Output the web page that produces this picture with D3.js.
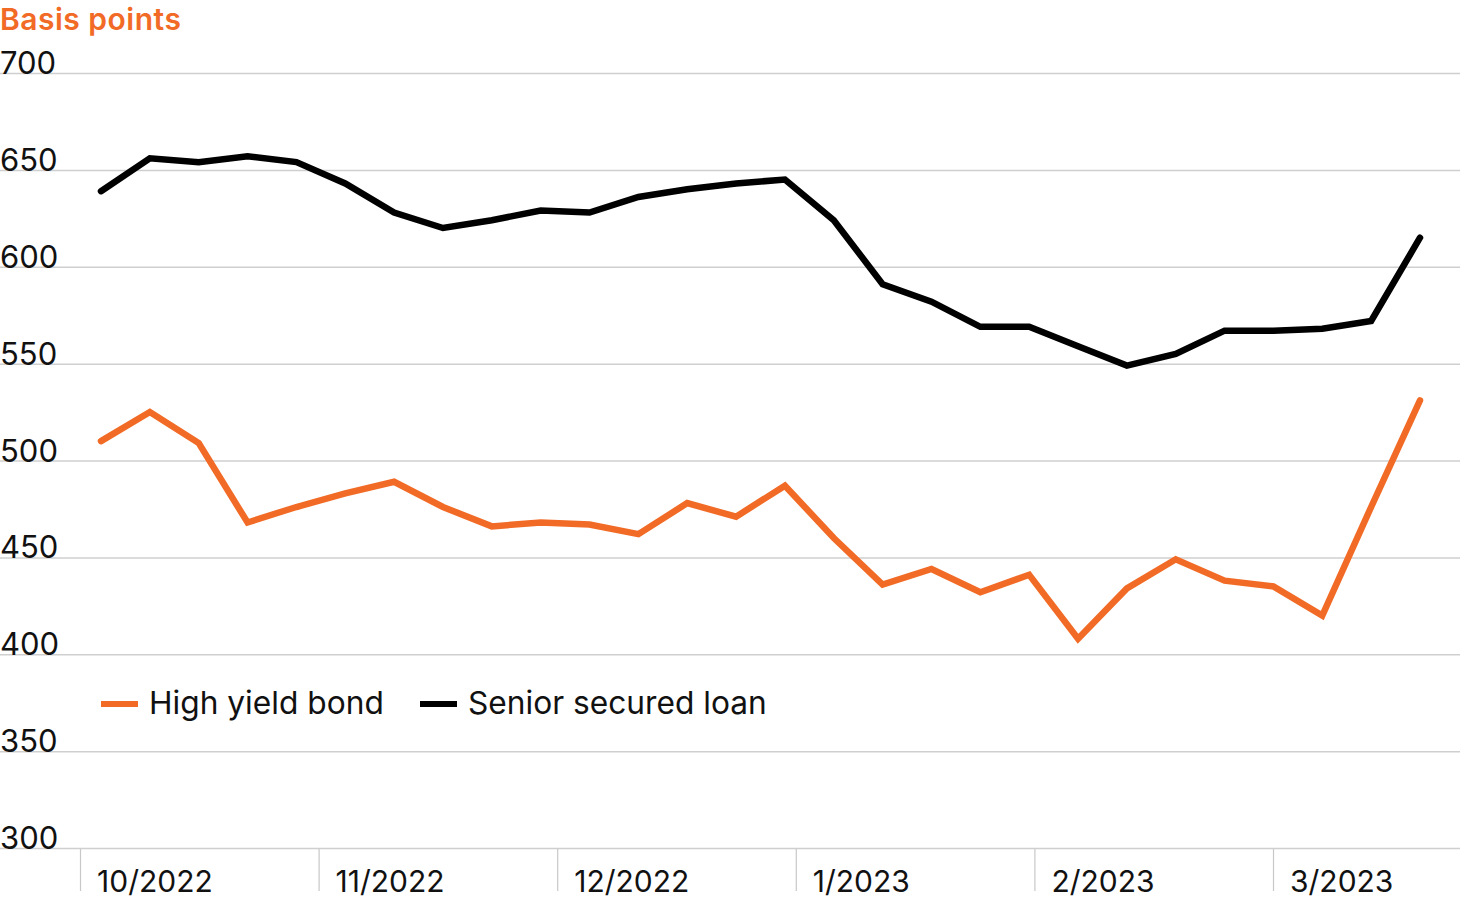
<!DOCTYPE html>
<html><head><meta charset="utf-8">
<script src="https://cdn.jsdelivr.net/npm/d3@7"></script>
<style>
html,body{margin:0;padding:0;background:#fff;}
svg{display:block;font-family:Inter,"Noto Sans",sans-serif;}
</style></head>
<body>
<svg id="chart" width="1460" height="900"></svg>
<script>
const months = ["10/2022","11/2022","12/2022","1/2023","2/2023","3/2023"];
const yTicks = [300,350,400,450,500,550,600,650,700];
const highYield = [510,525,509,468,476,483,489,476,466,468,467,462,478,471,487,460,436,444,432,441,408,434,449,438,435,420,476,531];
const seniorLoan = [639,656,654,657,654,643,628,620,624,629,628,636,640,643,645,624,591,582,569,569,559,549,555,567,567,568,572,615];
const seriesNames = ["High yield bond","Senior secured loan"];
const colors = ["#f26b26","#000000"];

const svg = d3.select("#chart");
const y = d3.scaleLinear().domain([300,700]).range([848,73]);
const x = d3.scaleLinear().domain([0, highYield.length-1]).range([101,1420]);
const xm = d3.scaleBand().domain(months).range([80, 80+6*238.6]);

// gridlines
svg.append("g").selectAll("line").data(yTicks).join("line")
  .attr("x1",0).attr("x2",1460)
  .attr("y1",d=>y(d)+0.5).attr("y2",d=>y(d)+0.5)
  .attr("stroke","#cfcfcf").attr("stroke-width",1.5);

// y labels
svg.append("g").selectAll("text").data(yTicks).join("text")
  .attr("x",0).attr("y",d=>y(d)+1)
  .attr("font-size",31).attr("fill","#111")
  .text(d=>d);

// month ticks
svg.append("g").selectAll("line").data(months).join("line")
  .attr("x1",d=>xm(d)+0.5).attr("x2",d=>xm(d)+0.5)
  .attr("y1",849).attr("y2",891)
  .attr("stroke","#c8c8c8").attr("stroke-width",1.2);
svg.append("g").selectAll("text").data(months).join("text")
  .attr("x",d=>xm(d)+17).attr("y",892)
  .attr("font-size",30).attr("fill","#111")
  .text(d=>d);

// title
svg.append("text").attr("x",0).attr("y",29.5)
  .attr("font-size",30).attr("font-weight",600).attr("letter-spacing",0.5).attr("fill","#f26b26")
  .text("Basis points");

// lines
const line = d3.line().x((d,i)=>x(i)).y(d=>y(d));
[highYield, seniorLoan].forEach((s,k)=>{
  svg.append("path").datum(s)
    .attr("d",line).attr("fill","none")
    .attr("stroke",colors[k]).attr("stroke-width",6.5)
    .attr("stroke-linejoin","miter").attr("stroke-linecap","round");
});

// legend
const leg = [{x:101},{x:420}];
seriesNames.forEach((n,k)=>{
  svg.append("line").attr("x1",leg[k].x).attr("x2",leg[k].x+37)
    .attr("y1",704).attr("y2",704).attr("stroke",colors[k]).attr("stroke-width",6);
  svg.append("text").attr("x",leg[k].x+48).attr("y",714)
    .attr("font-size",31.7).attr("fill","#111").text(n);
});
</script>
</body></html>
